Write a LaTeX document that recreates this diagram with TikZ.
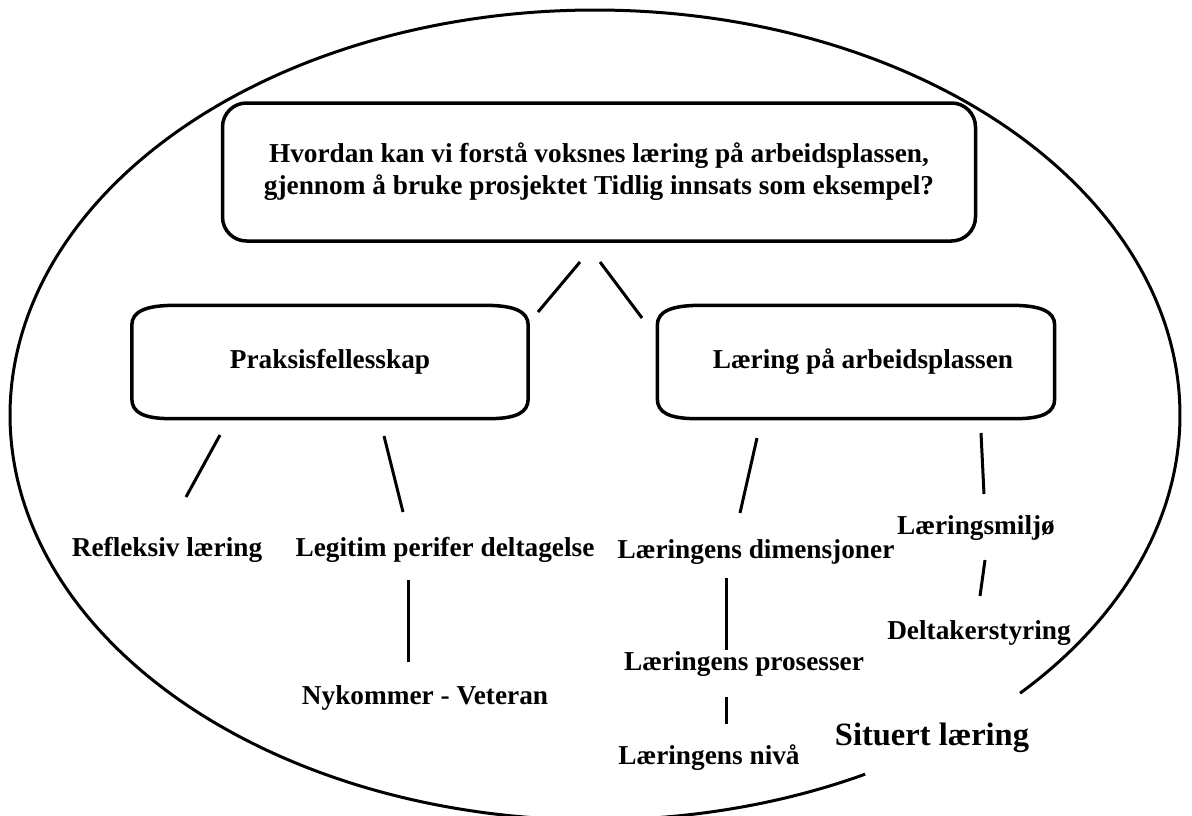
\documentclass[tikz,border=0pt]{standalone}
\usepackage{fontspec}
\setmainfont{Liberation Serif}
\usetikzlibrary{calc}
% outline with wide, flat corners drawn round a named node
\newcommand\barrelbox[1]{%
  \draw[line width=3.5pt]
    ($(#1.north west)+(0,20)$) .. controls ($(#1.north west)+(0,6)$) and ($(#1.north west)+(14,0)$) .. ($(#1.north west)+(44,0)$)
    -- ($(#1.north east)+(-44,0)$) .. controls ($(#1.north east)+(-14,0)$) and ($(#1.north east)+(0,6)$) .. ($(#1.north east)+(0,20)$)
    -- ($(#1.south east)+(0,-20)$) .. controls ($(#1.south east)+(0,-6)$) and ($(#1.south east)+(-12,0)$) .. ($(#1.south east)+(-40,0)$)
    -- ($(#1.south west)+(40,0)$) .. controls ($(#1.south west)+(12,0)$) and ($(#1.south west)+(0,-6)$) .. ($(#1.south west)+(0,-20)$)
    -- cycle;}
\begin{document}
\begin{tikzpicture}[x=1pt,y=-1pt,
  bx/.style={draw,line width=3.5pt,rounded corners=24pt,inner sep=0pt,align=center,
             font=\fontsize{27.3}{32}\selectfont\bfseries},
  sbx/.style={inner sep=0pt,align=center,font=\fontsize{27.3}{32}\selectfont\bfseries},
  lbl/.style={inner sep=0pt,font=\fontsize{27.3}{32}\selectfont\bfseries},
  big/.style={inner sep=0pt,font=\fontsize{32.5}{38}\selectfont\bfseries},
  ln/.style={line width=3pt}]
\useasboundingbox (0,0) rectangle (1192,816);

% outer ellipse, open at the lower right
\draw[line width=3pt] plot[smooth,domain=62.5:403.4,samples=240]
  ({595+585*cos(\x)},{415+405*sin(\x)});

% boxes
\node[bx,minimum width=753pt,minimum height=138pt] (q) at (599,172)
  {Hvordan kan vi forstå voksnes læring på arbeidsplassen,\\
   gjennom å bruke prosjektet Tidlig innsats som eksempel?};
\node[sbx,minimum width=396pt,minimum height=113pt] (pf) at (330,362) {Praksisfellesskap};
\node[sbx,minimum width=397pt,minimum height=113pt] (la) at (856,362) {\hspace*{14pt}Læring på arbeidsplassen};
\barrelbox{pf}
\barrelbox{la}

% labels
\node[lbl] (rl) at (167,550) {Refleksiv læring};
\node[lbl] (lp) at (445,550) {Legitim perifer deltagelse};
\node[lbl] (ld) at (756,552) {Læringens dimensjoner};
\node[lbl] (lm) at (976,528) {Læringsmiljø};
\node[lbl] (nv) at (425,698) {Nykommer - Veteran};
\node[lbl] (ds) at (979,633) {Deltakerstyring};
\node[lbl] (lpr) at (744,664) {Læringens prosesser};
\node[lbl] (ln) at (709,758) {Læringens nivå};
\node[big] (sl) at (932,738) {Situert læring};

% connector end points
\coordinate (q-pf) at (580,262);  \coordinate (pf-q) at (538,312);
\coordinate (q-la) at (600,262);  \coordinate (la-q) at (642,318);
\coordinate (pf-rl) at (220,435); \coordinate (rl-pf) at (186,497);
\coordinate (pf-lp) at (384,436); \coordinate (lp-pf) at (403,512);
\coordinate (la-ld) at (757,438); \coordinate (ld-la) at (740,513);
\coordinate (la-lm) at (981,433); \coordinate (lm-la) at (984,494);
\coordinate (lp-nv) at (408,580); \coordinate (nv-lp) at (408,662);
\coordinate (ld-lpr) at (726,578); \coordinate (lpr-ld) at (726,650);
\coordinate (lm-ds) at (985,560); \coordinate (ds-lm) at (980,596);
\coordinate (lpr-ln) at (726,697); \coordinate (ln-lpr) at (726,724);

% connectors
\draw[ln] (q-pf) -- (pf-q);
\draw[ln] (q-la) -- (la-q);
\draw[ln] (pf-rl) -- (rl-pf);
\draw[ln] (pf-lp) -- (lp-pf);
\draw[ln] (la-ld) -- (ld-la);
\draw[ln] (la-lm) -- (lm-la);
\draw[ln] (lp-nv) -- (nv-lp);
\draw[ln] (ld-lpr) -- (lpr-ld);
\draw[ln] (lm-ds) -- (ds-lm);
\draw[ln] (lpr-ln) -- (ln-lpr);
\end{tikzpicture}
\end{document}
